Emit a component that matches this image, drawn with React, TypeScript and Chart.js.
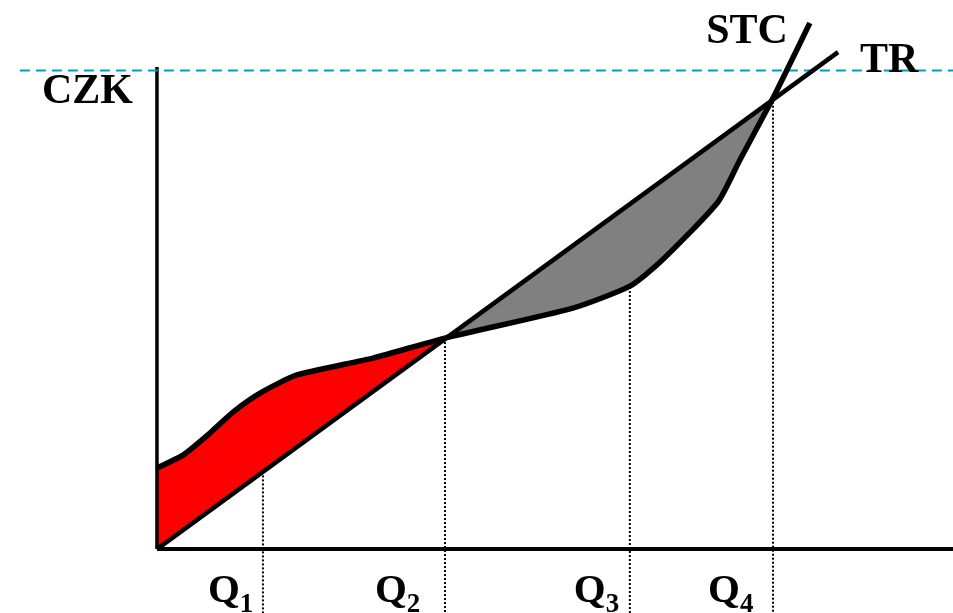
import React, { useEffect, useRef } from "react";
import { Chart, registerables } from "chart.js";

Chart.register(...registerables);

// ---- data ----
const stcQ = [0, 0.9, 1.84, 2.64, 3.58, 4.86, 7.5, 10, 14.44, 16.42, 17.47, 19.48, 20.24, 21.39, 22.67];
const stcCost = [3.84, 4.45, 5.5, 6.49, 7.39, 8.25, 9.05, 10, 11.42, 12.46, 13.6, 16.45, 18.44, 21.37, 24.93];
const trQ = [0, 23.65];
const trRevenue = [0, 23.55];
const qMarks = [3.68, 10, 16.42, 21.39];
const qMarkTops = [3.68, 10, 12.42, 21.39];
const qSubscripts = ["1", "2", "3", "4"];
const yAxisTop = 22.84;
const refLevel = 22.68;
const refStart = -4.76;

// ---- scale ranges ----
const xMin = -5.45;
const xMax = 27.64;
const yMin = -3.03;
const yMax = 26.02;

// ---- label layout (pixel offsets) ----
const qLabelOffsets = [55, 70, 56, 65];
const FONT = '"Liberation Serif", "Times New Roman", serif';

const pts = (xs: number[], ys: number[]) => xs.map((x, i) => ({ x, y: ys[i] }));

export default function App() {
  const ref = useRef<HTMLCanvasElement>(null);

  useEffect(() => {
    if (!ref.current) return;
    const stc = pts(stcQ, stcCost);
    const tr = pts(trQ, trRevenue);
    const q4 = qMarks[qMarks.length - 1];
    const stcFill = stc.filter((p) => p.x <= q4 + 1e-9);

    const base = { pointRadius: 0, pointHoverRadius: 0, fill: false };

    const datasets: any[] = [
      // 0: STC
      { ...base, label: "STC", data: stc, borderColor: "#000", borderWidth: 5.5, tension: 0.2, borderJoinStyle: "round", order: 1 },
      // 1: TR
      { ...base, label: "TR", data: tr, borderColor: "#000", borderWidth: 4.5, order: 2 },
      // 2: STC fill segment
      {
        ...base,
        label: "fill",
        data: stcFill,
        borderWidth: 0,
        borderColor: "rgba(0,0,0,0)",
        tension: 0.2,
        fill: { target: 1, above: "#FF0000", below: "#808080" },
        order: 10,
      },
      // 3: y axis
      { ...base, label: "yaxis", data: [{ x: 0, y: 0 }, { x: 0, y: yAxisTop }], borderColor: "#000", borderWidth: 3.5, order: 4 },
      // 4: x axis
      { ...base, label: "xaxis", data: [{ x: 0, y: 0 }, { x: xMax, y: 0 }], borderColor: "#000", borderWidth: 4, order: 4 },
      // 5: dashed reference
      {
        ...base,
        label: "ref",
        data: [{ x: refStart, y: refLevel }, { x: xMax, y: refLevel }],
        borderColor: "#0099CC",
        borderWidth: 2.2,
        borderDash: [10, 6],
        order: 3,
      },
    ];
    qMarks.forEach((q, i) => {
      datasets.push({
        ...base,
        label: "Q" + qSubscripts[i],
        data: [{ x: q, y: qMarkTops[i] }, { x: q, y: yMin }],
        borderColor: "#000",
        borderWidth: 2,
        borderDash: [2, 2],
        order: 6,
      });
    });

    const labelsPlugin = {
      id: "labels",
      afterDraw(chart: any) {
        const ctx = chart.ctx;
        const xs = chart.scales.x;
        const ys = chart.scales.y;
        ctx.save();
        ctx.fillStyle = "#000";
        ctx.textBaseline = "alphabetic";
        ctx.font = `bold 42px ${FONT}`;
        // CZK
        ctx.textAlign = "right";
        ctx.fillText("CZK", xs.getPixelForValue(0) - 24, ys.getPixelForValue(yAxisTop) + 36);
        // STC
        const stcEnd = stc[stc.length - 1];
        ctx.fillText("STC", xs.getPixelForValue(stcEnd.x) - 22, ys.getPixelForValue(stcEnd.y) + 20);
        // TR
        const trEnd = tr[tr.length - 1];
        ctx.textAlign = "left";
        ctx.fillText("TR", xs.getPixelForValue(trEnd.x) + 22, ys.getPixelForValue(trEnd.y) + 20);
        // Q labels
        const baseY = ys.getPixelForValue(0) + 53;
        qMarks.forEach((q, i) => {
          const left = xs.getPixelForValue(q) - qLabelOffsets[i];
          ctx.font = `bold 41px ${FONT}`;
          ctx.textAlign = "left";
          ctx.fillText("Q", left, baseY);
          const w = ctx.measureText("Q").width;
          ctx.font = `bold 27px ${FONT}`;
          ctx.fillText(qSubscripts[i], left + w, baseY + 10);
        });
        ctx.restore();
      },
    };

    const chart = new Chart(ref.current, {
      type: "line",
      data: { datasets },
      options: {
        animation: false,
        responsive: true,
        maintainAspectRatio: false,
        layout: { padding: 0 },
        events: [],
        scales: {
          x: { type: "linear", min: xMin, max: xMax, display: false },
          y: { type: "linear", min: yMin, max: yMax, display: false },
        },
        plugins: {
          legend: { display: false },
          tooltip: { enabled: false },
        },
      } as any,
      plugins: [labelsPlugin],
    });
    return () => chart.destroy();
  }, []);

  return (
    <div style={{ position: "fixed", left: 0, top: 0, width: 953, height: 613, background: "#fff" }}>
      <canvas ref={ref} />
    </div>
  );
}
